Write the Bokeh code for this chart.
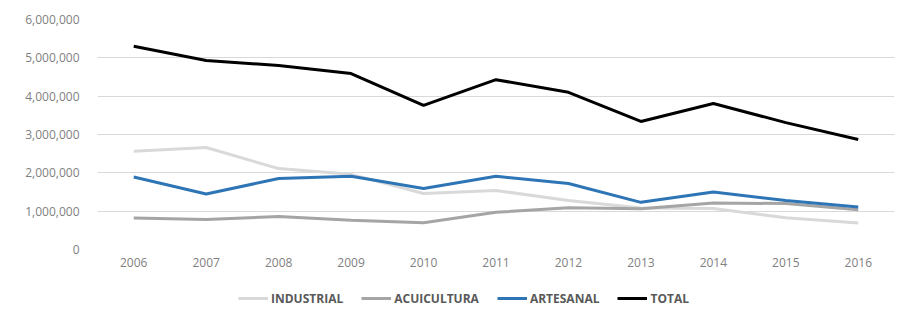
from bokeh.plotting import figure
from bokeh.layouts import column
from bokeh.models import Legend, LegendItem, NumeralTickFormatter, FixedTicker
from bokeh.embed import file_html
from bokeh.resources import INLINE

years = [2006, 2007, 2008, 2009, 2010, 2011, 2012, 2013, 2014, 2015, 2016]
industrial = [2560000, 2660000, 2110000, 1960000, 1460000, 1540000, 1280000, 1080000, 1070000, 830000, 690000]
acuicultura = [820000, 780000, 860000, 760000, 700000, 970000, 1090000, 1060000, 1210000, 1200000, 1040000]
artesanal = [1890000, 1450000, 1850000, 1910000, 1590000, 1910000, 1720000, 1230000, 1500000, 1280000, 1110000]
total = [5300000, 4930000, 4800000, 4590000, 3760000, 4430000, 4100000, 3340000, 3810000, 3310000, 2870000]
y_ticks = [0, 1000000, 2000000, 3000000, 4000000, 5000000, 6000000]

series = [
    ("INDUSTRIAL", industrial, "#d9d9d9"),
    ("ACUICULTURA", acuicultura, "#a5a5a5"),
    ("ARTESANAL", artesanal, "#2e75b6"),
    ("TOTAL", total, "#000000"),
]

FONT = "Open Sans"

p = figure(width=898, height=280, output_backend="svg", toolbar_location=None,
           x_range=(2005.5, 2016.5), y_range=(0, 6000000),
           min_border_left=97, min_border_right=4, min_border_top=19, min_border_bottom=31)
p.outline_line_color = None

for name, vals, col in series:
    p.line(years, vals, line_color=col, line_width=3)

p.xgrid.grid_line_color = None
p.ygrid.grid_line_color = "#d9d9d9"
p.ygrid.grid_line_width = 1

p.xaxis.ticker = FixedTicker(ticks=years)
p.yaxis.ticker = FixedTicker(ticks=y_ticks)
p.yaxis.formatter = NumeralTickFormatter(format="0,0")
for ax in (p.xaxis, p.yaxis):
    ax.axis_line_color = None
    ax.major_tick_line_color = None
    ax.minor_tick_line_color = None
    ax.major_label_text_font = FONT
    ax.major_label_text_font_size = "12px"
    ax.major_label_text_color = "#7f7f7f"
p.xaxis.major_label_standoff = 2
p.yaxis.major_label_standoff = 12

# legend strip below the chart (its frame is aligned with the chart frame by the column layout)
p2 = figure(width=898, height=37, output_backend="svg", toolbar_location=None,
            x_range=(0, 1), y_range=(0, 1), x_axis_location=None, y_axis_location=None,
            min_border_left=97, min_border_right=4, min_border_top=0, min_border_bottom=0)
p2.outline_line_color = None
p2.xgrid.grid_line_color = None
p2.ygrid.grid_line_color = None

items = []
for name, vals, col in series:
    # same data, far outside this strip's ranges: only the legend glyph shows
    r = p2.line(years, vals, line_color=col, line_width=3)
    items.append(LegendItem(label=name, renderers=[r]))

legend = Legend(items=items, orientation="horizontal", location=(141, 9))
legend.padding = 0
legend.margin = 0
legend.spacing = 18
legend.glyph_width = 30
legend.label_standoff = 3
legend.label_text_font = FONT
legend.label_text_font_size = "12px"
legend.label_text_font_style = "bold"
legend.label_text_color = "#595959"
legend.border_line_color = None
legend.background_fill_alpha = 0
p2.add_layout(legend, "center")

layout = column(p, p2, spacing=0)
open("out.html", "w").write(file_html(layout, INLINE))
